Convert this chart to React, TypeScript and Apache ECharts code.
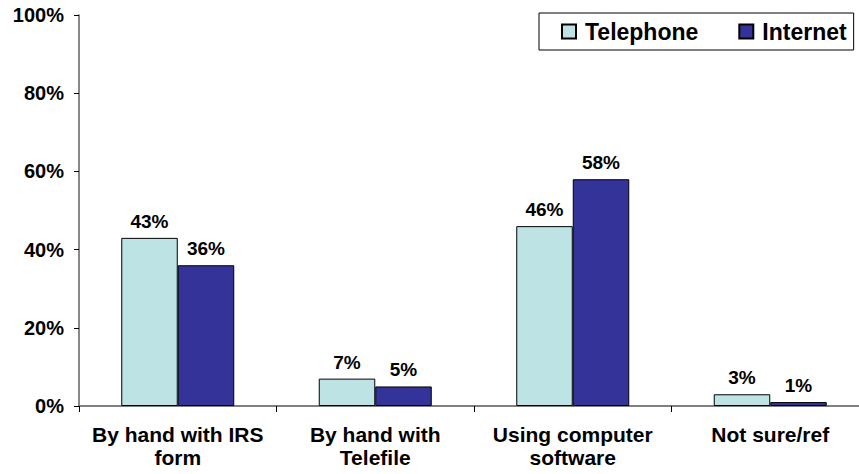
import React, { useEffect, useRef } from "react";
import * as echarts from "echarts";

const categories = ["By hand with IRS\nform", "By hand with\nTelefile", "Using computer\nsoftware", "Not sure/ref"];
const telephone = [43, 7, 46, 3];
const internet = [36, 5, 58, 1];
const yTicks = [0, 20, 40, 60, 80, 100];

export default function App() {
  const ref = useRef<HTMLDivElement>(null);
  useEffect(() => {
    const chart = echarts.init(ref.current!, null, { renderer: "svg" });
    const font = "Liberation Sans, Arial, sans-serif";
    const labelStyle = {
      show: true,
      position: "top" as const,
      formatter: "{c}%",
      fontFamily: font,
      fontWeight: "bold" as const,
      fontSize: 19,
      color: "#000",
      distance: 7,
    };
    chart.setOption({
      animation: false,
      textStyle: { fontFamily: font },
      grid: { left: 79, right: 1, top: 15, bottom: 68, containLabel: false },
      legend: {
        left: 539,
        top: 13,
        orient: "horizontal",
        backgroundColor: "#fff",
        borderColor: "#000",
        borderWidth: 1,
        padding: [7, 7, 7, 22],
        itemWidth: 14,
        itemHeight: 14,
        itemGap: 40,
        icon: "rect",
        textStyle: { fontFamily: font, fontWeight: "bold", fontSize: 23, color: "#000", padding: [2, 0, 0, 4] },
        data: ["Telephone", "Internet"],
      },
      xAxis: {
        type: "category",
        data: categories,
        axisLine: { lineStyle: { color: "#808080", width: 2 } },
        axisTick: { show: true, length: 6, lineStyle: { color: "#000" } },
        axisLabel: {
          fontFamily: font,
          fontWeight: "bold",
          fontSize: 21,
          color: "#000",
          margin: 17,
          lineHeight: 23,
          interval: 0,
        },
      },
      yAxis: {
        type: "value",
        min: 0,
        max: 100,
        interval: 20,
        axisLine: { show: true, lineStyle: { color: "#606060", width: 1.5 } },
        axisTick: { show: true, length: 5, lineStyle: { color: "#000" } },
        splitLine: { show: false },
        axisLabel: {
          formatter: (v: number) => (yTicks.includes(v) ? v + "%" : ""),
          fontFamily: font,
          fontWeight: "bold",
          fontSize: 20,
          color: "#000",
          margin: 15,
        },
      },
      series: [
        {
          name: "Telephone",
          type: "bar",
          data: telephone,
          barWidth: 56.5,
          barGap: "0%",
          itemStyle: { color: "#BDE3E5", borderColor: "#000", borderWidth: 1 },
          label: labelStyle,
        },
        {
          name: "Internet",
          type: "bar",
          data: internet,
          barWidth: 56.5,
          itemStyle: { color: "#333399", borderColor: "#000", borderWidth: 1 },
          label: labelStyle,
        },
      ],
    });
    return () => chart.dispose();
  }, []);
  return (
    <div style={{ width: 859, height: 474, position: "absolute", left: 0, top: 0, overflow: "hidden" }}>
      <div ref={ref} style={{ width: 870, height: 474 }} />
    </div>
  );
}
